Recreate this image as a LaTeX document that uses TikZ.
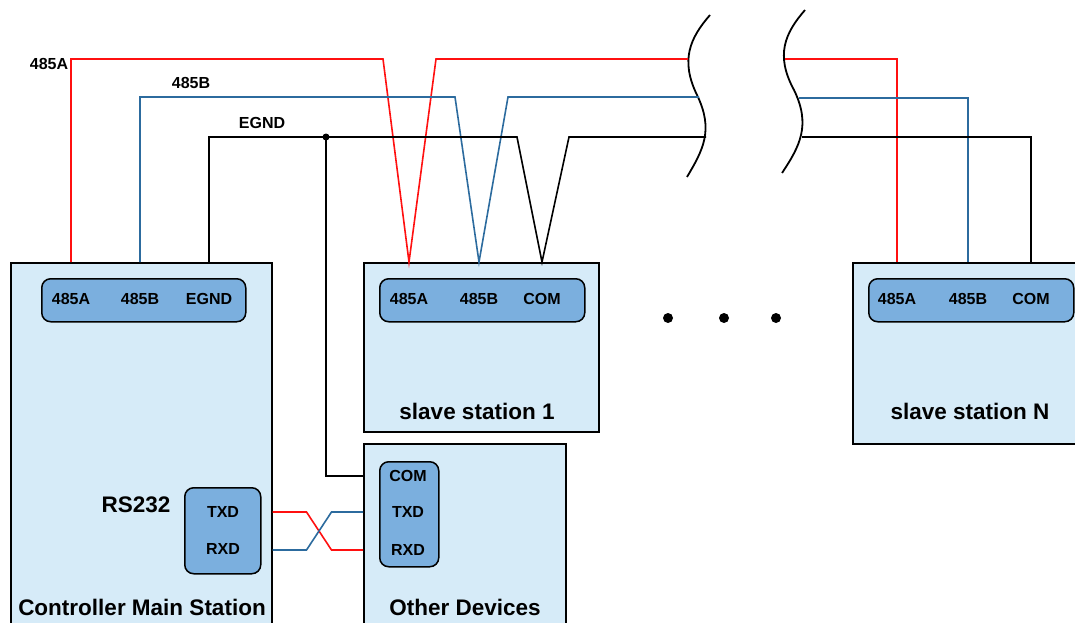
\documentclass[tikz,border=0pt]{standalone}
\usepackage{fontspec}
\setmainfont{Liberation Sans}
\definecolor{boxfill}{HTML}{D6EBF8}
\definecolor{blockfill}{HTML}{7BAFDE}
\definecolor{wirered}{HTML}{FF1010}
\definecolor{wireblue}{HTML}{2C6B9E}
\begin{document}
\begin{tikzpicture}[x=1pt,y=-1pt,
    box/.style={draw, line width=1.5pt, fill=boxfill, anchor=north west, inner sep=0pt},
    block/.style={draw, line width=1.5pt, fill=blockfill, rounded corners=9pt, anchor=north west, inner sep=0pt},
    lbl/.style={font=\bfseries\fontsize{16}{17}\selectfont, inner sep=0pt},
    captxt/.style={font=\bfseries\fontsize{22.5}{24}\selectfont, inner sep=0pt},
    wire/.style={line width=1.6pt},
    brk/.style={line width=1.8pt}]
    \useasboundingbox (0,0) rectangle (1075,623);

    % stations
    \node[box, minimum width=261, minimum height=380] (main) at (10,262) {};
    \node[box, minimum width=235, minimum height=169] (s1) at (363,262) {};
    \node[box, minimum width=240, minimum height=181] (sN) at (852,262) {};
    \node[box, minimum width=202, minimum height=200] (dev) at (363,443) {};

    % terminal blocks
    \node[block, minimum width=204, minimum height=43] (mblk) at (41,278) {};
    \node[block, minimum width=205, minimum height=43] (s1blk) at (379,278) {};
    \node[block, minimum width=205, minimum height=43] (sNblk) at (868,278) {};
    \node[block, minimum width=76, minimum height=86] (rsblk) at (184,487) {};
    \node[block, minimum width=59, minimum height=105] (dblk) at (379,461) {};

    % terminal labels
    \node[lbl] (mA) at (71,299) {485A};
    \node[lbl] (mB) at (140,299) {485B};
    \node[lbl] (mG) at (209,299) {EGND};
    \node[lbl] (s1A) at (409,299) {485A};
    \node[lbl] (s1B) at (479,299) {485B};
    \node[lbl] (s1C) at (542,299) {COM};
    \node[lbl] (sNA) at (897,299) {485A};
    \node[lbl] (sNB) at (968,299) {485B};
    \node[lbl] (sNC) at (1031,299) {COM};
    \node[lbl] (rsT) at (223,512) {TXD};
    \node[lbl] (rsR) at (223,549) {RXD};
    \node[lbl] (dC) at (408,476) {COM};
    \node[lbl] (dT) at (408,512) {TXD};
    \node[lbl] (dR) at (408,550) {RXD};

    % captions
    \node[captxt] (mcap) at (142,607) {Controller Main Station};
    \node[captxt] (s1cap) at (477,411) {slave station 1};
    \node[captxt] (sNcap) at (970,411) {slave station N};
    \node[captxt] (dcap) at (465,607) {Other Devices};
    \node[captxt] (rscap) at (136,505) {RS232};
    \node[lbl] (tA) at (49,64) {485A};
    \node[lbl] (tB) at (191,83) {485B};
    \node[lbl] (tG) at (262,123) {EGND};

    % bus breaks
    \coordinate (brA1) at (688,59);
    \coordinate (brB1) at (699,97);
    \coordinate (brG1) at (706,137);
    \coordinate (brA2) at (785,59);
    \coordinate (brB2) at (799,98);
    \coordinate (brG2) at (802,137);
    \coordinate (jn) at (326,137);
    \draw[brk] (710,15) .. controls (690,38) and (680,60) .. (697,95) .. controls (714,130) and (703,150) .. (687,177);
    \draw[brk] (805,10) .. controls (785,33) and (775,55) .. (794,90) .. controls (811,125) and (800,146) .. (782,173);

    % bus wires
    \draw[wire, wirered] (main.north -| mA) |- (383,59) -- (s1.north -| s1A) -- (436,59) -- (brA1);
    \draw[wire, wireblue] (main.north -| mB) |- (455,97) -- (s1.north -| s1B) -- (508,97) -- (brB1);
    \draw[wire] (main.north -| mG) |- (517,137) -- (s1.north -| s1C) -- (569,137) -- (brG1);
    \draw[wire, wirered] (brA2) -| (sN.north -| sNA);
    \draw[wire, wireblue] (brB2) -| (sN.north -| sNB);
    \draw[wire] (brG2) -| (sN.north -| sNC);
    \fill (jn) circle (3.5);
    \draw[wire] (jn) |- (dev.west |- dC);

    % rs232 crossover
    \draw[wire, wirered] (main.east |- dT) -- ++(34,0) -- ++(25,38) -- (dev.west |- dR);
    \draw[wire, wireblue] (main.east |- dR) -- ++(34,0) -- ++(25,-38) -- (dev.west |- dT);

    \foreach \x in {668,724,776}
        \fill (\x,318) circle (5);
\end{tikzpicture}
\end{document}
